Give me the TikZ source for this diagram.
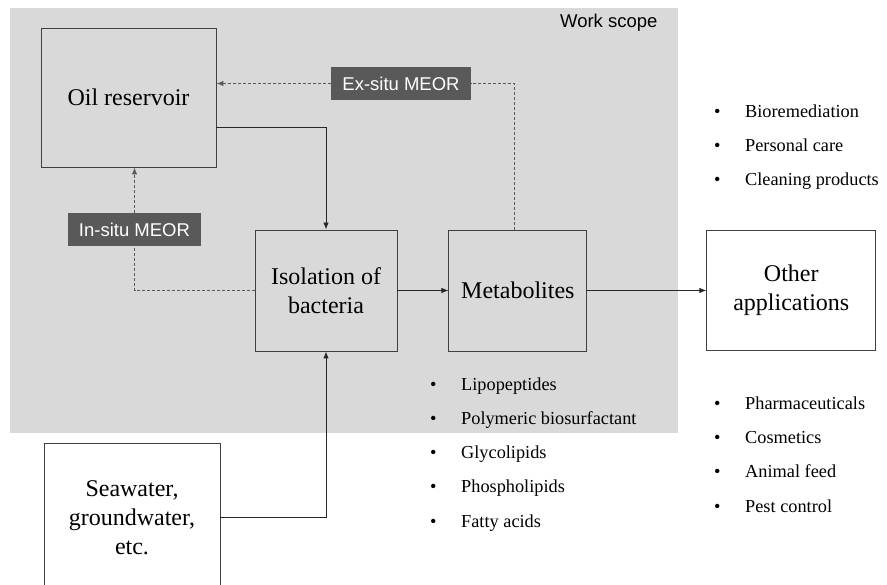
\documentclass[tikz,border=0pt]{standalone}
\usepackage{fontspec}
\setmainfont{Liberation Serif}
\setsansfont{Liberation Sans}
\usepackage{tikz}
\usetikzlibrary{positioning}
\usetikzlibrary{arrows.meta}
\definecolor{scopegray}{HTML}{D9D9D9}
\definecolor{taggray}{HTML}{595959}
\definecolor{edgegray}{HTML}{404040}
\tikzset{basic/.style={draw=edgegray,line width=0.9pt,align=center,font=\fontsize{24}{29}\selectfont,inner sep=0pt}}
\tikzset{stage/.style={basic,rectangle}}
\tikzset{outer/.style={basic,rectangle,fill=white}}
\tikzset{tag/.style={fill=taggray,text=white,font=\sffamily\fontsize{18.5}{22}\selectfont,minimum height=33pt,inner xsep=11pt}}
\tikzset{listitem/.style={anchor=base west,inner sep=0pt,font=\fontsize{18.3}{22}\selectfont}}
\tikzset{link/.style={draw=black!85,line width=0.9pt}}
\tikzset{dashlink/.style={draw=black!65,line width=1pt,dash pattern=on 3pt off 2pt}}
\newcommand{\bulletitem}[1]{\makebox[31pt][l]{\textbullet}#1}

\begin{document}
\begin{tikzpicture}[>={Latex[length=7pt,width=5.5pt]},x=1pt,y=-1pt]
        \useasboundingbox (0,0) rectangle (887,585);
        \clip (0,0) rectangle (887,585);
        \fill[scopegray] (10,8) rectangle (678,433);
        \node[anchor=base east,font=\sffamily\fontsize{18.5}{22}\selectfont] (scope) at (661,28) {Work scope};
        \node[stage,minimum width=175pt,minimum height=139pt] (oil) at (128.5,97.5) {Oil reservoir};
        \node[stage,minimum width=142pt,minimum height=121pt] (isol) at (326,290.5) {Isolation of\\bacteria};
        \node[stage,minimum width=138pt,minimum height=121pt,right=51pt of isol] (metab) {Metabolites};
        \node[outer,minimum width=169pt,minimum height=120pt,right=119pt of metab] (other) {Other\\applications};
        \node[outer,minimum width=176pt,minimum height=149pt] (sea) at (132,517.5) {Seawater,\\groundwater,\\etc.};
        \node[tag] (exsitu) at (401,83.5) {Ex-situ MEOR};
        \node[tag] (insitu) at (134.5,230) {In-situ MEOR};
            \path[link,->] ([yshift=-29.5pt]oil.east) -| (isol.north);
            \path[link,->] (isol) -- (metab);
            \path[link,->] (metab) -- (other);
            \path[link,->] (sea) -| (isol.south);
            \path[dashlink] (isol) -| (insitu);
            \path[dashlink,->] (insitu) -- (insitu |- oil.south);
            \path[dashlink] ([xshift=-3pt]metab.north) |- (exsitu);
            \path[dashlink,->] (exsitu) -- (oil.east |- exsitu);
        \foreach \entry [count=\i] in {Bioremediation,Personal care,Cleaning products}
            \node[listitem] (use-\i) at (714,{118+34*(\i-1)}) {\bulletitem{\entry}};
        \foreach \entry [count=\i] in {Lipopeptides,Polymeric biosurfactant,Glycolipids,Phospholipids,Fatty acids}
            \node[listitem] (metabolite-\i) at (430,{391+34*(\i-1)}) {\bulletitem{\entry}};
        \foreach \entry [count=\i] in {Pharmaceuticals,Cosmetics,Animal feed,Pest control}
            \node[listitem] (field-\i) at (714,{410+34*(\i-1)}) {\bulletitem{\entry}};
    \end{tikzpicture}
\end{document}
